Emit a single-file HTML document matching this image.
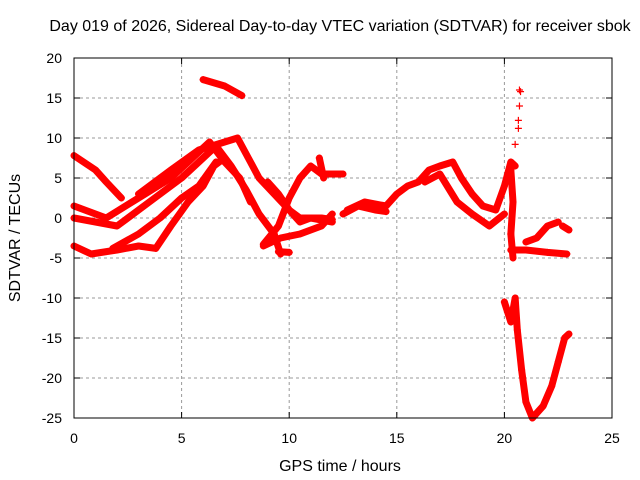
<!DOCTYPE html>
<html><head><meta charset="utf-8"><style>
body{margin:0;background:#fff}
svg{display:block;font-family:"Liberation Sans",sans-serif}
</style></head><body>
<svg id="chart" width="640" height="480">
<text x="340" y="31" text-anchor="middle" font-size="16">Day 019 of 2026, Sidereal Day-to-day VTEC variation (SDTVAR) for receiver sbok</text>
<text x="340" y="471" text-anchor="middle" font-size="16">GPS time / hours</text>
<text transform="translate(20,238) rotate(-90)" text-anchor="middle" font-size="16">SDTVAR / TECUs</text>
<g id="grid"></g><g id="ticks"></g><g id="marks"></g>
<rect x="74" y="58" width="538" height="360" fill="none" stroke="#000"/>
</svg>
<script>
const xTicks=[0,5,10,15,20,25];
const yTicks=[20,15,10,5,0,-5,-10,-15,-20,-25];
const track1=[[0,7.8],[1,6],[1.5,4.5],[2.2,2.5]];
const track2=[[0,0],[1,-0.5],[2,-1],[3.5,2],[5,5],[6,7.5],[6.6,9],[7.3,6.5],[8,3.5],[8.6,0.5],[9.3,-2],[9.6,-4.5]];
const track3=[[0,1.5],[1.5,0],[3,2.5],[4.5,5],[5.5,7.5],[6.3,9.5],[7,7],[7.7,5],[8.2,2]];
const track4=[[3,3],[4.5,6],[5.8,8.5],[7,9.5],[7.6,10],[8.1,7.5],[8.6,5],[9.3,3],[10,1],[10.5,0],[11.5,0],[12,-0.2]];
const track5=[[0,-3.5],[0.8,-4.5],[2,-4],[3,-3.5],[3.8,-3.8],[4.5,-1],[5.3,2],[6,4],[6.5,6.5],[7,7.5]];
const track6=[[1.8,-3.8],[3,-2],[4,0],[5,2.5],[5.8,4],[6.6,7]];
const track7=[[6,17.3],[7,16.5],[7.8,15.3]];
const track8=[[8.8,-3.5],[9.6,-2.5],[10.5,-2],[11.5,-1],[12,0.5]];
const track9=[[8.8,-3.3],[9.5,-1],[10,2.5],[10.5,5],[11,6.5],[11.5,5.5],[12.5,5.5]];
const track10=[[9,4.5],[9.5,3],[10,1],[10.5,-0.5],[11,0],[12,-0.5]];
const track11=[[9.5,-4.2],[10,-4.3]];
const track12=[[11.4,7.5],[11.6,5]];
const track13=[[12.7,1],[13.5,2],[14.5,1.5],[15,3],[15.5,4],[16,4.5],[16.5,6],[17,6.5],[17.6,7],[18,5],[18.5,3],[19,1.5],[19.6,1],[20,4],[20.3,7],[20.5,6.5]];
const track14=[[12.5,0.5],[13.2,1.5],[14,1],[14.5,0.8]];
const track15=[[16.3,4.5],[17,5.5],[17.8,2],[18.5,0.5],[19.3,-1],[20,0.5]];
const track16=[[20.3,6],[20.4,2],[20.3,-2],[20.4,-5]];
const track17=[[20.3,-4],[21,-4],[22,-4.3],[22.9,-4.5]];
const track18=[[21,-3],[21.5,-2.5],[22,-1],[22.5,-0.5]];
const track19=[[22.7,-1],[23,-1.5]];
const track20=[[20,-10.5],[20.3,-13],[20.5,-10],[20.6,-14],[20.8,-19],[21,-23],[21.3,-25],[21.8,-23.5],[22.2,-21],[22.5,-18],[22.8,-15],[23,-14.5]];
const scatterX=[20.7,20.75,20.7,20.65,20.65,20.5];
const scatterY=[16,15.8,14,12.2,11.2,9.2];
const tracks=[track1,track2,track3,track4,track5,track6,track7,track8,track9,track10,track11,track12,track13,track14,track15,track16,track17,track18,track19,track20];

const X=v=>74+v*(538/25);
const Y=v=>58+(20-v)*8;
const NS='http://www.w3.org/2000/svg';
function mk(t,a,p){const e=document.createElementNS(NS,t);for(const k in a)e.setAttribute(k,a[k]);p.appendChild(e);return e;}
const grid=document.getElementById('grid'),ticks=document.getElementById('ticks'),marks=document.getElementById('marks');
xTicks.forEach(t=>{
  if(t>0&&t<25){const g=mk('line',{x1:X(t),x2:X(t),y1:58,y2:418,stroke:'#999','stroke-dasharray':'3,3'},grid);
  
  }
  mk('line',{x1:X(t),x2:X(t),y1:418,y2:412,stroke:'#000'},ticks);
  mk('line',{x1:X(t),x2:X(t),y1:58,y2:64,stroke:'#000'},ticks);
  const l=mk('text',{x:X(t),y:443,'text-anchor':'middle','font-size':14},ticks);l.textContent=t;
  
  
});
yTicks.forEach(t=>{
  if(t<20&&t>-25){const g=mk('line',{x1:74,x2:612,y1:Y(t),y2:Y(t),stroke:'#999','stroke-dasharray':'3,3'},grid);
  
  }
  mk('line',{x1:74,x2:80,y1:Y(t),y2:Y(t),stroke:'#000'},ticks);
  mk('line',{x1:606,x2:612,y1:Y(t),y2:Y(t),stroke:'#000'},ticks);
  const l=mk('text',{x:62,y:Y(t)+5,'text-anchor':'end','font-size':14},ticks);l.textContent=t;
  
  
});
function plus(x,y,p){const s=3.5;mk('path',{d:`M${x-s},${y}H${x+s}M${x},${y-s}V${y+s}`,stroke:'#f00','stroke-width':1.2,fill:'none'},p);}
tracks.forEach((tr,i)=>{
  const g=mk('g',{},marks);
  
  
  mk('polyline',{points:tr.map(p=>X(p[0])+','+Y(p[1])).join(' '),fill:'none',stroke:'#f00','stroke-width':7,'stroke-linejoin':'round','stroke-linecap':'round'},g);
  tr.forEach(p=>plus(X(p[0]),Y(p[1]),g));
});
const sg=mk('g',{},marks);


scatterX.forEach((x,i)=>plus(X(x),Y(scatterY[i]),sg));
</script>
</body></html>
